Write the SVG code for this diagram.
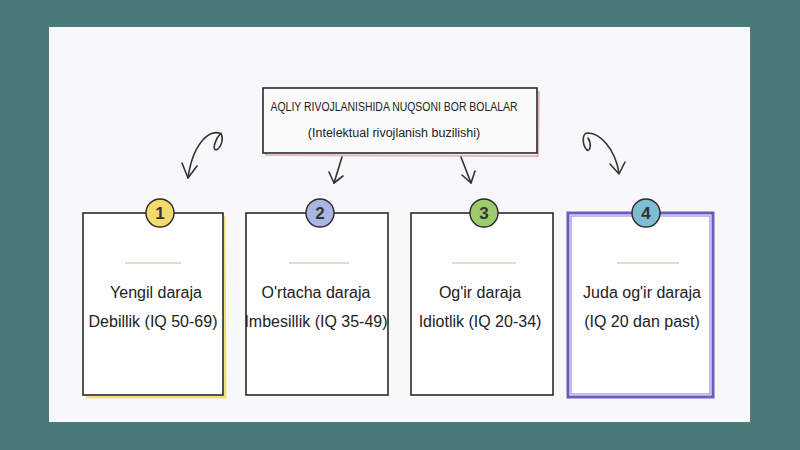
<svg xmlns="http://www.w3.org/2000/svg" width="800" height="450" viewBox="0 0 800 450">
<defs>
<style>
.t{font-family:"Liberation Sans","DejaVu Sans",sans-serif;fill:#222;text-anchor:middle}
.card{fill:#fefefe;stroke:#2a2a2a;stroke-width:1.6}
.sh{fill:none;stroke-width:3}
.div{stroke:#d9d2b8;stroke-width:1.5}
.num{font-family:"Liberation Sans","DejaVu Sans",sans-serif;font-size:17px;font-weight:bold;fill:#333;text-anchor:middle}
.arr{fill:none;stroke:#333;stroke-width:1.6;stroke-linecap:round;stroke-linejoin:round}
</style>
</defs>
<rect width="800" height="450" fill="#4b7b79"/>
<rect x="49" y="27" width="701" height="395" fill="#f8f8fa"/>
<g id="title">
<path d="M267,91 L539,92 L538,156 L266,155 Z" fill="none" stroke="#e7b8c4" stroke-width="2"/>
<rect x="263" y="88" width="274" height="65" fill="#fbfbfb" stroke="#2a2a2a" stroke-width="1.6"/>
<text class="t" x="394" y="111" font-size="12" textLength="247" lengthAdjust="spacingAndGlyphs">AQLIY RIVOJLANISHIDA NUQSONI BOR BOLALAR</text>
<text class="t" x="394" y="137" font-size="12.5">(Intelektual rivojlanish buzilishi)</text>
</g>
<g id="connectors">
<path class="arr" d="M221,133 c-6,6 -9,17 -5,17 c5,-2 8,-11 5,-16 c-10,-6 -28,8 -33,44"/>
<path class="arr" d="M182,163 L188,178 L197,166"/>
<path class="arr" d="M342,157 L334,183"/>
<path class="arr" d="M329,172 L334,183 L343,176"/>
<path class="arr" d="M461,157 L471,183"/>
<path class="arr" d="M462,175 L471,183 L475,171"/>
<path class="arr" d="M587,150 c-5,-5 -5,-16 0,-17 c12,-1 28,15 32,40"/>
<path class="arr" d="M587,150 c3,2 5,-6 1,-12"/>
<path class="arr" d="M610,164 L619,174 L625,162"/>
</g>
<g id="card1">
<path class="sh" d="M224,216 L225,397 L86,397" stroke="#f0e07a"/>
<rect class="card" x="83" y="213" width="140" height="182"/>
<line class="div" x1="125" y1="263" x2="181" y2="263"/>
<circle cx="160" cy="213" r="14" fill="#f4dc6c" stroke="#2a2a2a" stroke-width="1.4"/>
<text class="num" x="160" y="219">1</text>
<text class="t" x="156" y="298" font-size="16">Yengil daraja</text>
<text class="t" x="153" y="327" font-size="16">Debillik (IQ 50-69)</text>
</g>
<g id="card2">
<rect class="card" x="246" y="213" width="142" height="182"/>
<line class="div" x1="289" y1="263" x2="349" y2="263"/>
<circle cx="320" cy="213" r="14" fill="#aab6e2" stroke="#2a2a2a" stroke-width="1.4"/>
<text class="num" x="320" y="219">2</text>
<text class="t" x="316" y="298" font-size="16">O'rtacha daraja</text>
<text class="t" x="316" y="327" font-size="16">Imbesillik (IQ 35-49)</text>
</g>
<g id="card3">
<rect class="card" x="411" y="213" width="142" height="182"/>
<line class="div" x1="452" y1="263" x2="516" y2="263"/>
<circle cx="484" cy="213" r="14" fill="#9dcc6c" stroke="#2a2a2a" stroke-width="1.4"/>
<text class="num" x="484" y="219">3</text>
<text class="t" x="480" y="298" font-size="16">Og'ir daraja</text>
<text class="t" x="480" y="327" font-size="16">Idiotlik (IQ 20-34)</text>
</g>
<g id="card4">
<rect x="568" y="213" width="145" height="184" fill="#fefefe" stroke="#6a5cc0" stroke-width="3"/>
<rect x="571" y="216" width="139" height="178" fill="none" stroke="#8a80d0" stroke-width="1"/>
<line class="div" x1="617" y1="263" x2="679" y2="263"/>
<circle cx="646" cy="213" r="14" fill="#7fbdd2" stroke="#2a2a2a" stroke-width="1.4"/>
<text class="num" x="646" y="219">4</text>
<text class="t" x="642" y="298" font-size="16">Juda og'ir daraja</text>
<text class="t" x="642" y="327" font-size="16">(IQ 20 dan past)</text>
</g>
</svg>
